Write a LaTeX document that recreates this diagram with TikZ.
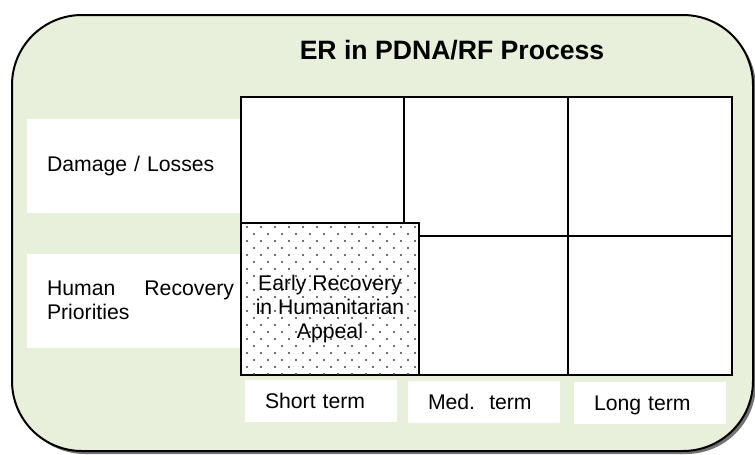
\documentclass[tikz,border=0pt]{standalone}
\usepackage{fontspec}
\setmainfont{Liberation Sans}
\usetikzlibrary{positioning}

\definecolor{panelgreen}{RGB}{232,240,220}

\begin{document}
\begin{tikzpicture}[x=0.5pt,y=-0.5pt,
  font=\fontsize{10.6}{12}\selectfont,
  rowlabel/.style={fill=white,minimum width=106.5pt,minimum height=47pt,
    text width=100.5pt,inner xsep=3pt,align=left,
    execute at begin node={\leftskip=7pt\relax}},
  termlabel/.style={fill=white,minimum width=76pt,minimum height=21pt,
    text width=56pt,inner xsep=10pt,align=left,
    text height=7.6pt,text depth=0pt}]

\useasboundingbox (0,0) rectangle (755,455);

%====================================================
% Panel
%====================================================
\fill[black!55,rounded corners=35pt] (15,18) rectangle (756,454);
\draw[line width=1pt,fill=panelgreen,rounded corners=35pt] (12,15) rectangle (753,451);

\node[font=\fontsize{13.3}{16}\selectfont\bfseries] (title) at (452,50)
{ER in PDNA/RF Process};

%====================================================
% Row labels
%====================================================
\node[rowlabel] (dmg) at (133.5,166) {Damage / Losses};
\node[rowlabel] (hrp) at (133.5,300.5) {Human\hfill Recovery\\Priorities};

%====================================================
% Grid
%====================================================
\draw[line width=1pt,fill=white] (241,97) rectangle (732,375);
\draw[line width=1pt] (404,97)--(404,223);
\draw[line width=1pt] (568,97)--(568,375);
\draw[line width=1pt] (419,236)--(732,236);

% Early recovery box (dotted)
\draw[line width=1pt,fill=white] (241,223) rectangle (419,375);
\begin{scope}
\clip (242,224) rectangle (418,374);
\foreach \j in {0,...,21}{
  \pgfmathsetmacro\dx{mod(\j,2)*7}
  \foreach \i in {0,...,12}
    \fill[black!75] (247+\dx+14*\i,227+7*\j) circle (0.55pt);
}
\end{scope}
\node[align=center] (era) at (330,309)
{Early Recovery\\in Humanitarian\\Appeal};

%====================================================
% Term labels
%====================================================
\node[termlabel] (short) at (321,401) {Short term};
\node[termlabel] (med) at (484,401.5) {Med.\ \ term};
\node[termlabel] (long) at (650,402.5) {Long term};

\end{tikzpicture}
\end{document}
